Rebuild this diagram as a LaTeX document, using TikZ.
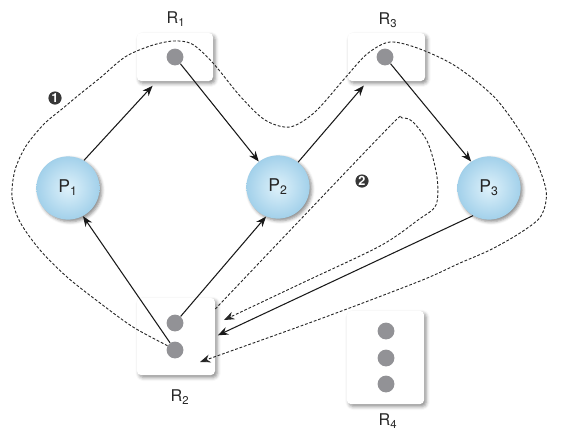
\documentclass[tikz,border=0pt]{standalone}
\usepackage{fontspec}
\setmainfont{TeX Gyre Heros}
\usetikzlibrary{arrows.meta,shadows.blur}

\definecolor{ballin}{RGB}{222,241,250}
\definecolor{ballmid}{RGB}{165,210,235}
\definecolor{ballout}{RGB}{105,172,211}
\definecolor{dotgray}{RGB}{146,146,150}
\definecolor{markgray}{RGB}{55,55,55}
\pgfdeclareradialshading{procball}{\pgfpoint{0bp}{0bp}}{%
  color(0bp)=(ballin); color(24bp)=(ballmid); color(44bp)=(ballout); color(50bp)=(ballout)}

\tikzset{
  proc/.style={circle, minimum size=1.58cm, inner sep=0pt, shading=procball,
    blur shadow={shadow xshift=1.5pt, shadow yshift=-1.5pt, shadow blur radius=2.2pt, shadow opacity=45},
    font=\fontsize{12.5}{14}\selectfont, text=black!85},
  res/.style={rectangle, rounded corners=3pt, fill=white, inner sep=0pt,
    blur shadow={shadow xshift=1.5pt, shadow yshift=-1.7pt, shadow blur radius=2.5pt, shadow opacity=45}},
  inst/.style={circle, fill=dotgray, minimum size=0.42cm, inner sep=0pt},
  lbl/.style={font=\fontsize{11.5}{13}\selectfont, text=black!85},
  numbadge/.style={circle, fill=markgray, text=white, inner sep=0pt, minimum size=0.33cm,
    font=\fontsize{9}{10}\selectfont\bfseries},
  req/.style={draw=black!90, line width=0.75pt, -{Stealth[length=2.6mm,width=2mm]}},
  cyc/.style={draw=black!85, line width=0.65pt, dash pattern=on 2pt off 1.3pt,
    -{Stealth[length=2.6mm,width=2mm]}},
}

\begin{document}
\begin{tikzpicture}[x=0.025cm, y=-0.025cm]
  % pixel grid of the figure, y pointing down
  \useasboundingbox (0,0) rectangle (563,435);

  % --- resources ---
  \node[res, minimum width=1.9cm,  minimum height=1.2cm]  (r1) at (175,57)    {};
  \node[res, minimum width=1.93cm, minimum height=1.2cm]  (r3) at (386.5,57)  {};
  \node[res, minimum width=1.95cm, minimum height=1.93cm] (r2) at (176,336.5) {};
  \node[res, minimum width=1.93cm, minimum height=2.33cm] (r4) at (385.5,357.5) {};

  \node[lbl] (r1lbl) at (176,19)  {R\textsubscript{1}};
  \node[lbl] (r3lbl) at (388,20)  {R\textsubscript{3}};
  \node[lbl] (r2lbl) at (180,397) {R\textsubscript{2}};
  \node[lbl] (r4lbl) at (388,421) {R\textsubscript{4}};

  % --- instances ---
  \node[inst] (r1d) at (175,57)  {};
  \node[inst] (r3d) at (385,57)  {};
  \node[inst] (r2a) at (175,323) {};
  \node[inst] (r2b) at (175,350) {};
  \node[inst] (r4a) at (386,331) {};
  \node[inst] (r4b) at (386,358) {};
  \node[inst] (r4c) at (386,384) {};

  % --- processes ---
  \node[proc] (p1) at (68,188)  {P\textsubscript{1}};
  \node[proc] (p2) at (278,187) {P\textsubscript{2}};
  \node[proc] (p3) at (489,188) {P\textsubscript{3}};

  % --- requests and assignments ---
  \draw[req, shorten >=4.3pt] (p1.60) -- (r1.-127);
  \draw[req] (r1d) -- (p2.127);
  \draw[req, shorten >=4pt] (p2.51) -- (r3.-128);
  \draw[req] (r3d) -- (p3.124);
  \draw[req] (r2b) -- (p1.-62);
  \draw[req] (r2a) -- (p2.-112);
  \draw[req, shorten >=2pt] (p3.-120) -- (r2.east);

  % --- cycles ---
  \coordinate (tip1) at (200,362);
  \coordinate (tip2) at (224,320);
  \draw[cyc] plot[smooth, tension=0.5] coordinates {(r2b.150) (133,327) (100,303) (67,277)
    (40,250) (20,222) (12,197) (15,170) (26,146) (44,124) (62,109) (80,94) (100,78) (125,57)
    (150,46) (173,41) (192,44) (213,63) (240,96) (265,120) (290,127) (315,112) (345,78)
    (367,54) (390,42) (420,49) (457,67) (497,100) (530,148) (546,190) (541,216) (520,233)
    (490,250) (460,263) (420,281) (320,319) (tip1)};
  \draw[cyc] plot[smooth, tension=0.5] coordinates {(r2.35) (300,220) (392,124) (402,118)
    (413,122) (428,143) (437,177) (436,205) (418,220) (380,246) (300,284) (tip2)};

  \node[numbadge] (c1) at (55,98)  {1};
  \node[numbadge] (c2) at (362,181) {2};
\end{tikzpicture}
\end{document}
